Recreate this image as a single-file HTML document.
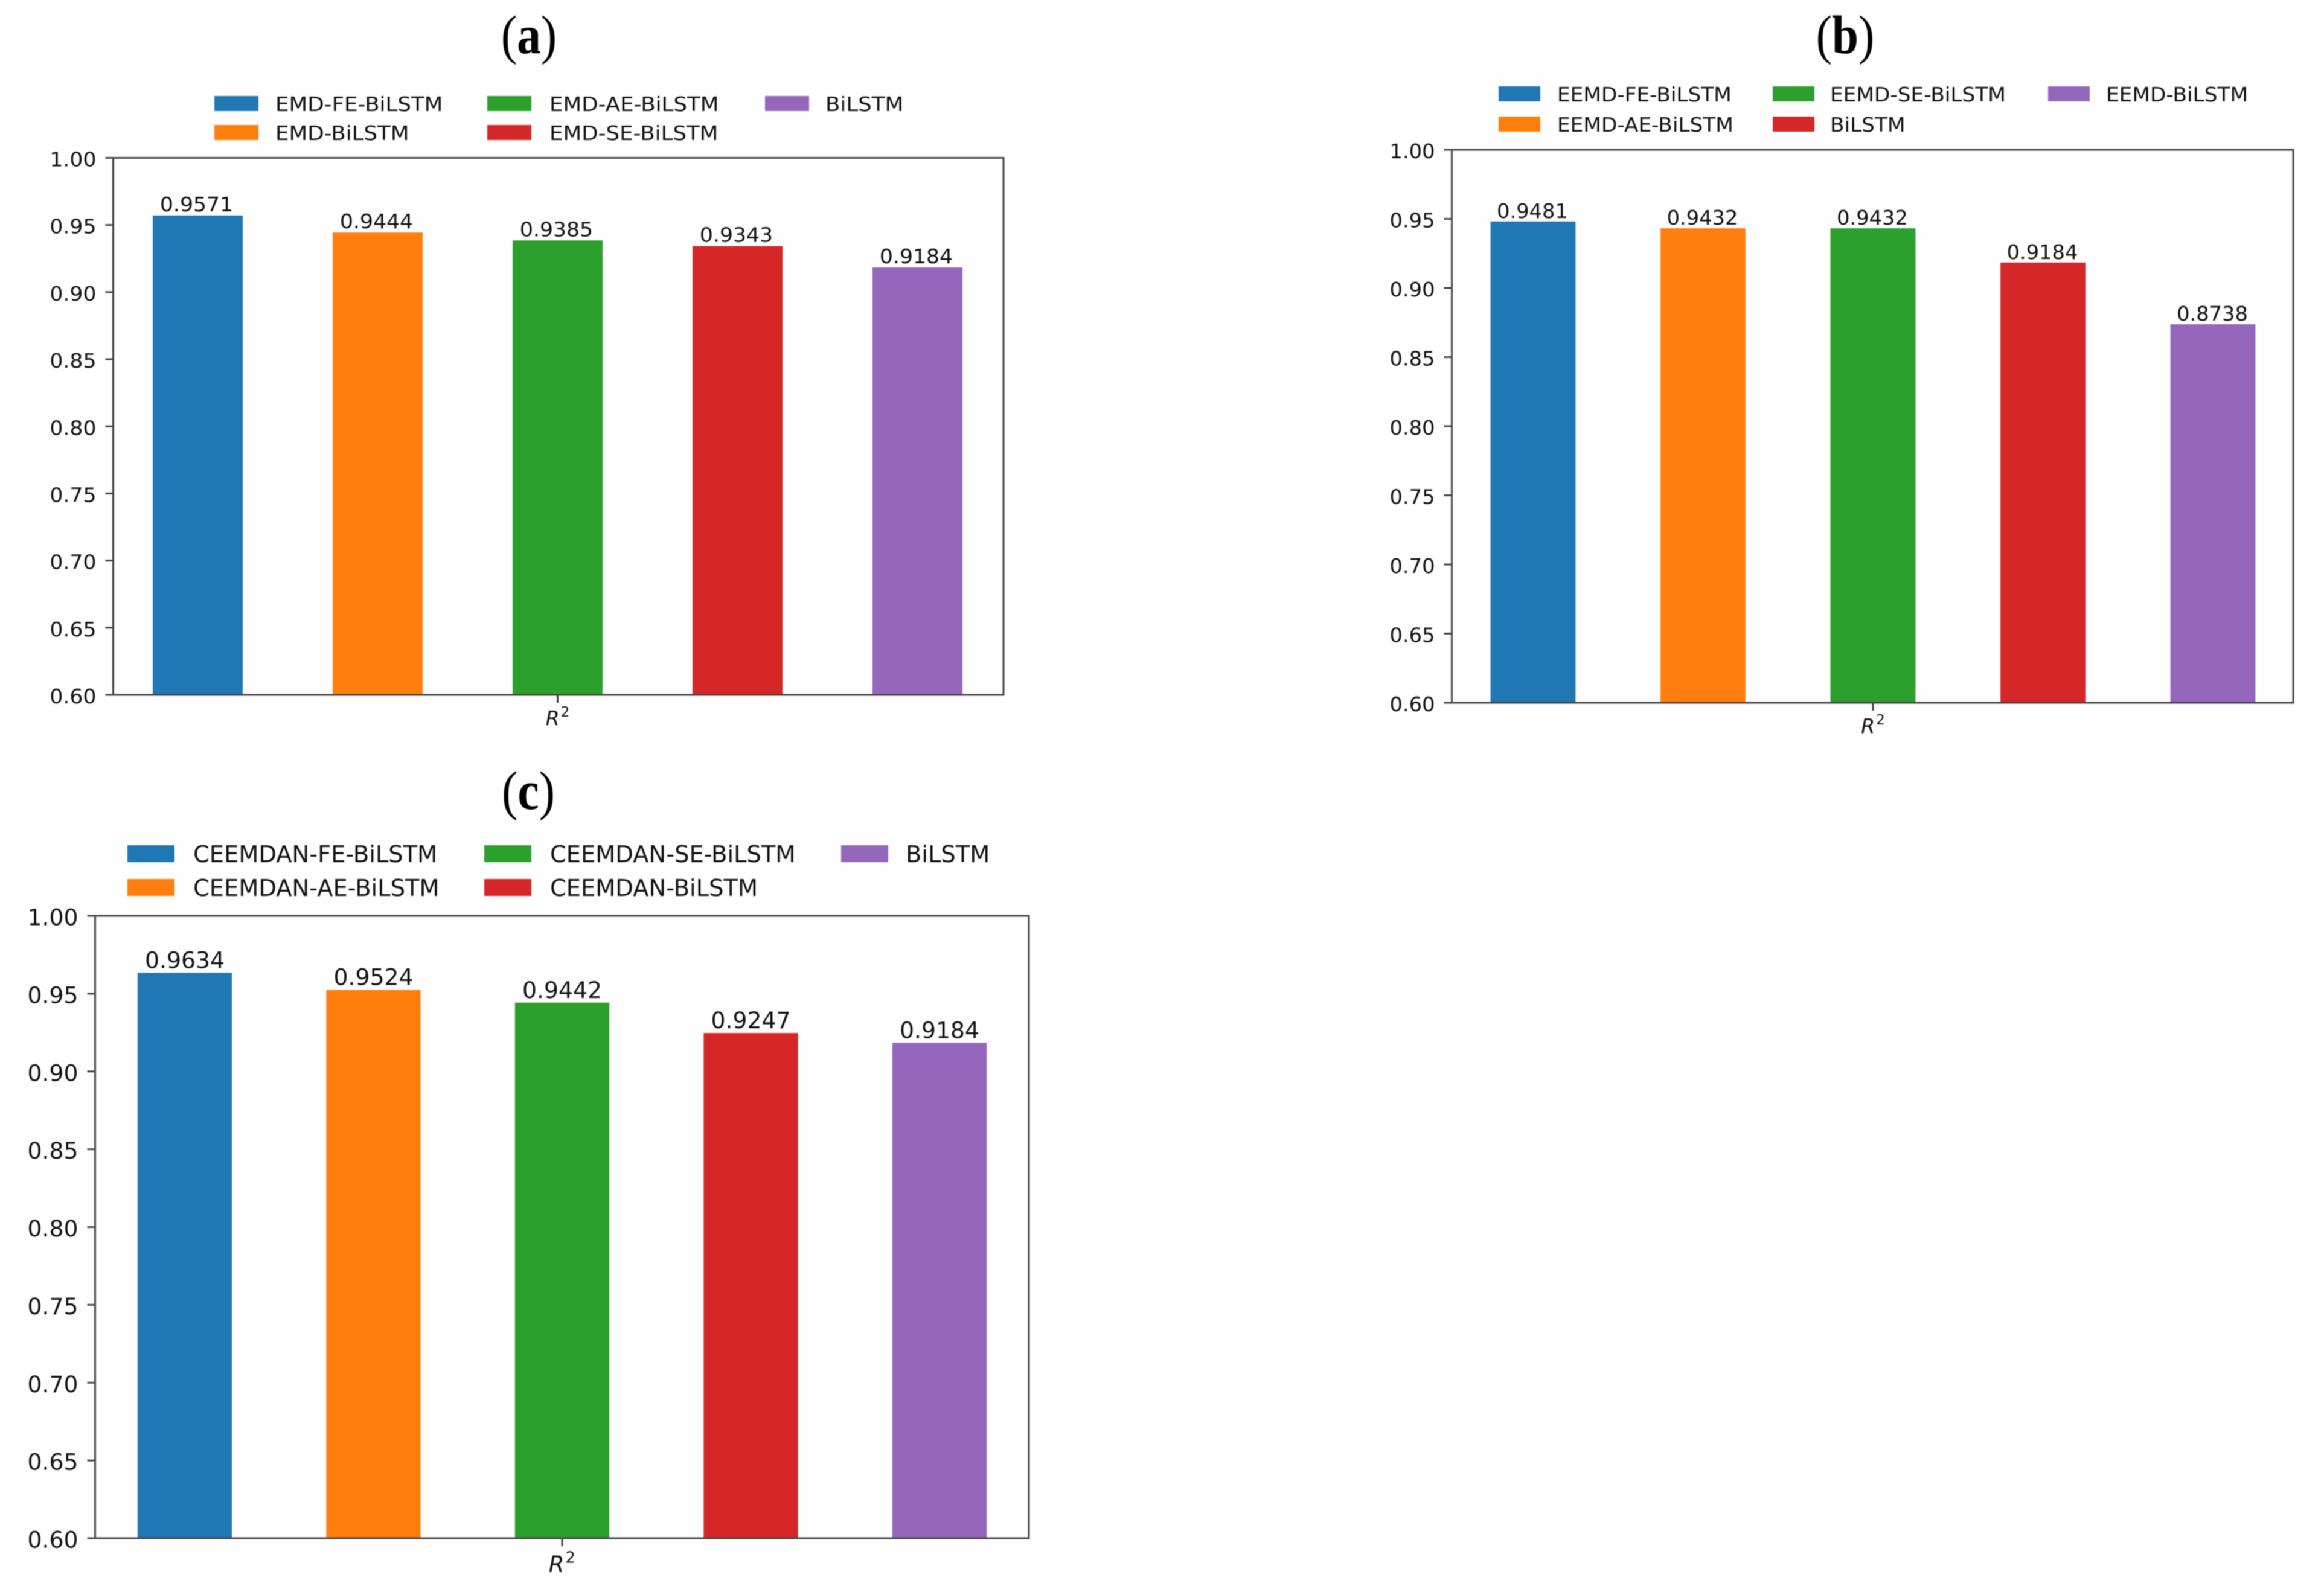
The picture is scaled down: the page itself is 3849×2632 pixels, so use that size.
<!DOCTYPE html>
<html lang="en">
<head>
<meta charset="utf-8">
<title>R2 comparison of BiLSTM models</title>
<style>
  html, body { margin: 0; padding: 0; background: #fefefe; }
  svg { display: block; filter: blur(0.8px); }
  text { font-family: "DejaVu Sans", "Liberation Sans", sans-serif; fill: #111; }
  .panel-title { font-family: "Liberation Serif", serif; fill: #000; }
</style>
</head>
<body>
<svg id="figure" xmlns="http://www.w3.org/2000/svg" width="3849" height="2632" viewBox="0 0 3849 2632"></svg>
<script>
// ---- data ----
const tickLabels = ["1.00", "0.95", "0.90", "0.85", "0.80", "0.75", "0.70", "0.65", "0.60"];
const yMin = 0.60;
const yMax = 1.00;
const xAxisLabel = "R";
const xAxisSuperscript = "2";

const seriesColors = ["#1f77b4", "#ff7f0e", "#2ca02c", "#d62728", "#9467bd"];

const categoriesA = ["EMD-FE-BiLSTM", "EMD-BiLSTM", "EMD-AE-BiLSTM", "EMD-SE-BiLSTM", "BiLSTM"];
const valuesA = [0.9571, 0.9444, 0.9385, 0.9343, 0.9184];

const categoriesB = ["EEMD-FE-BiLSTM", "EEMD-AE-BiLSTM", "EEMD-SE-BiLSTM", "BiLSTM", "EEMD-BiLSTM"];
const valuesB = [0.9481, 0.9432, 0.9432, 0.9184, 0.8738];

const categoriesC = ["CEEMDAN-FE-BiLSTM", "CEEMDAN-AE-BiLSTM", "CEEMDAN-SE-BiLSTM", "CEEMDAN-BiLSTM", "BiLSTM"];
const valuesC = [0.9634, 0.9524, 0.9442, 0.9247, 0.9184];

// ---- drawing ----
const NS = "http://www.w3.org/2000/svg";
const root = document.getElementById("figure");

function make(parent, tag, attrs) {
  const node = document.createElementNS(NS, tag);
  for (const key in attrs) node.setAttribute(key, attrs[key]);
  parent.appendChild(node);
  return node;
}

function drawPanel(letter, categories, values, layout) {
  const g = make(root, "g", {});
  
  

  // axis functions
  const yScale = v => layout.bottom - (v - yMin) / (yMax - yMin) * (layout.bottom - layout.top);
  const xScale = i => layout.firstCenter + i * layout.spacing;
  const barWidth = layout.spacing * 0.5;

  // panel title
  const title = make(g, "text", {
    class: "panel-title",
    "text-anchor": "middle",
    "font-size": 90,
    transform: "translate(" + layout.titleX + "," + layout.titleY + ") scale(0.88,1)"
  });
  
  
  title.appendChild(document.createTextNode("("));
  const titleLetter = make(title, "tspan", { "font-weight": "bold" });
  titleLetter.textContent = letter;
  title.appendChild(document.createTextNode(")"));

  // bars
  values.forEach((value, i) => {
    const y = yScale(value);
    const bar = make(g, "rect", {
      x: xScale(i) - barWidth / 2,
      y: y,
      width: barWidth,
      height: yScale(yMin) - y,
      fill: seriesColors[i]
    });
    
    

    const label = make(g, "text", {
      "text-anchor": "middle",
      "font-size": layout.fontSize,
      transform: "translate(" + (xScale(i) - layout.valueShift) + "," + (y - layout.valueGap) + ") scale(" + layout.stretch + ",1)"
    });
    label.textContent = value.toFixed(4);
    
    
  });

  // y ticks and labels
  tickLabels.forEach(text => {
    const y = yScale(parseFloat(text));
    const tick = make(g, "line", {
      x1: layout.left - 13, x2: layout.left, y1: y, y2: y,
      stroke: "#444", "stroke-width": 3
    });
    
    

    const label = make(g, "text", {
      "text-anchor": "end",
      "font-size": layout.fontSize,
      transform: "translate(" + (layout.left - 28) + "," + (y + layout.fontSize * 0.365 + 2) + ") scale(" + layout.stretch + ",1)"
    });
    label.textContent = text;
    
    
  });

  // x tick and label
  const xCenter = xScale((values.length - 1) / 2);
  const xTick = make(g, "line", {
    x1: xCenter, x2: xCenter, y1: layout.bottom, y2: layout.bottom + 13,
    stroke: "#444", "stroke-width": 3
  });
  
  

  const xLabel = make(g, "text", {
    "font-size": layout.fontSize,
    "font-style": "italic",
    x: xCenter - layout.fontSize * 0.6,
    y: layout.bottom + layout.xLabelDrop
  });
  xLabel.textContent = xAxisLabel;
  
  
  const xSup = make(xLabel, "tspan", {
    "font-size": layout.fontSize * 0.7,
    "font-style": "normal",
    dy: -layout.fontSize * 0.42,
    dx: 2
  });
  xSup.textContent = xAxisSuperscript;

  // spines
  const spines = make(g, "rect", {
    x: layout.left, y: layout.top,
    width: layout.right - layout.left,
    height: layout.bottom - layout.top,
    fill: "none", stroke: "#444", "stroke-width": 3
  });
  
  

  // legend
  const legendCol = [0, 0, 1, 1, 2];
  const legendRow = [0, 1, 0, 1, 0];
  categories.forEach((name, i) => {
    const col = legendCol[i];
    const row = legendRow[i];
    const swatch = make(g, "rect", {
      x: layout.swatchX[col],
      y: layout.legendBaseline[row] - layout.swatchH,
      width: layout.swatchW,
      height: layout.swatchH,
      fill: seriesColors[i]
    });
    
    

    const label = make(g, "text", {
      "font-size": layout.legendFont,
      transform: "translate(" + layout.legendTextX[col] + "," + layout.legendBaseline[row] + ") scale(" + layout.legendStretch + ",1)"
    });
    label.textContent = name;
    
    
  });
}

drawPanel("a", categoriesA, valuesA, {
  left: 187.5, right: 1662, top: 261.5, bottom: 1151,
  firstCenter: 327.5, spacing: 298,
  fontSize: 33, stretch: 1.05, valueGap: 7, valueShift: 2, xLabelDrop: 50,
  titleX: 876, titleY: 88,
  swatchX: [355, 807, 1267], legendTextX: [456, 910, 1367],
  swatchW: 73, swatchH: 25, legendBaseline: [184, 232],
  legendFont: 33, legendStretch: 1.08
});

drawPanel("b", categoriesB, valuesB, {
  left: 2404.5, right: 3798, top: 248, bottom: 1164,
  firstCenter: 2539, spacing: 281.5,
  fontSize: 33, stretch: 1.02, valueGap: 6, valueShift: 1, xLabelDrop: 50,
  titleX: 3056, titleY: 88,
  swatchX: [2482, 2936, 3392], legendTextX: [2579, 3031, 3488],
  swatchW: 69, swatchH: 25, legendBaseline: [168, 218],
  legendFont: 33, legendStretch: 1.04
});

drawPanel("c", categoriesC, valuesC, {
  left: 157.5, right: 1704, top: 1517, bottom: 2548,
  firstCenter: 306, spacing: 312.5,
  fontSize: 37, stretch: 1.02, valueGap: 8, valueShift: 0, xLabelDrop: 56,
  titleX: 875, titleY: 1340,
  swatchX: [211, 802, 1393], legendTextX: [320, 911, 1500],
  swatchW: 78, swatchH: 28, legendBaseline: [1428, 1484],
  legendFont: 38, legendStretch: 1.01
});
</script>
</body>
</html>
